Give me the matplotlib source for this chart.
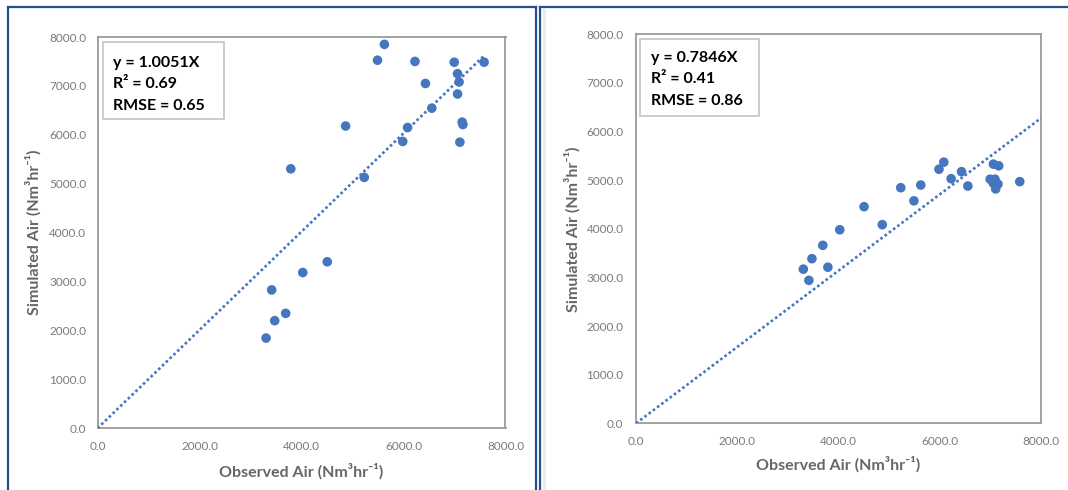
import matplotlib
matplotlib.use("Agg")
import matplotlib.pyplot as plt
from matplotlib.lines import Line2D
from matplotlib.patches import Rectangle
from matplotlib.ticker import FuncFormatter

# ---- data ----
observed = [3305, 3415, 3475, 3690, 3790, 4025, 4505, 4865, 5230, 5490, 5625, 5985,
            6080, 6225, 6430, 6555, 6995, 7060, 7060, 7090, 7105, 7150, 7165, 7580]
simulated_left = [1845, 2830, 2200, 2350, 5305, 3185, 3405, 6180, 5130, 7525, 7850, 5865,
                  6150, 7500, 7050, 6545, 7485, 7250, 6835, 7080, 5850, 6260, 6210, 7485]
simulated_right = [3170, 2940, 3385, 3660, 3210, 3980, 4455, 4085, 4845, 4575, 4900, 5225,
                   5370, 5030, 5175, 4880, 5020, 5330, 4935, 5020, 4820, 4920, 5295, 4970]
slopes = [1.0051, 0.7846]
r2_values = [0.69, 0.41]
rmse_values = [0.65, 0.86]
trend_x_end = [7580, 8000]
x_ticks = [0, 2000, 4000, 6000, 8000]
y_ticks = [0, 1000, 2000, 3000, 4000, 5000, 6000, 7000, 8000]
x_label = "Observed Air (Nm³hr⁻¹)"
y_label = "Simulated Air (Nm³hr⁻¹)"

plt.rcParams['font.family'] = ['Lato', 'DejaVu Sans']

W, H = 1068, 490
fig = plt.figure(figsize=(W / 100, H / 100), dpi=100)
fig.patch.set_facecolor('white')

BLUE = '#4677BE'
FRAME = '#24508F'


def px_rect(x0, y0, x1, y1):
    return [x0 / W, 1 - y1 / H, (x1 - x0) / W, (y1 - y0) / H]


panels = [
    dict(rect=px_rect(97.5, 37, 505.5, 428.3), sim=simulated_left,
         box=(0.0135, 0.790, 0.2965, 0.197), tx=0.039, ty=[0.924, 0.869, 0.814],
         ylab=(-0.158, 0.5), xlab=(0.5, -0.109), ypad=8.0),
    dict(rect=px_rect(636, 34.3, 1041, 423.3), sim=simulated_right,
         box=(0.011, 0.790, 0.293, 0.197), tx=0.0365, ty=[0.930, 0.876, 0.818],
         ylab=(-0.156, 0.5), xlab=(0.5, -0.105), ypad=9.0),
]

for i, p in enumerate(panels):
    ax = fig.add_axes(p['rect'])
    ax.scatter(observed, p['sim'], s=48, color=BLUE, edgecolors='none', zorder=2)
    xe = trend_x_end[i]
    ax.plot([0, xe], [0, slopes[i] * xe], linestyle=(0, (1, 1)), lw=1.9,
            color=BLUE, zorder=3, solid_capstyle='butt', dash_capstyle='butt')
    ax.set_xlim(0, 8000)
    ax.set_ylim(0, 8000)
    ax.set_xticks(x_ticks)
    ax.set_yticks(y_ticks)
    fmt = FuncFormatter(lambda v, pos: f"{v:.1f}")
    ax.xaxis.set_major_formatter(fmt)
    ax.yaxis.set_major_formatter(fmt)
    ax.tick_params(axis='both', length=0, labelsize=8.5, labelcolor='#7A7A7A')
    ax.tick_params(axis='x', pad=9)
    ax.tick_params(axis='y', pad=p['ypad'])
    for s in ax.spines.values():
        s.set_color('#9A9A9A')
        s.set_linewidth(1.3)
    ax.set_xlabel(x_label, fontsize=11.5, fontweight='bold', color='#666666',
                  va='center', ha='center')
    ax.set_ylabel(y_label, fontsize=11.5, fontweight='bold', color='#666666',
                  va='center', ha='center')
    ax.xaxis.set_label_coords(*p['xlab'])
    ax.yaxis.set_label_coords(*p['ylab'])

    bx, by, bw, bh = p['box']
    ax.add_patch(Rectangle((bx, by), bw, bh, transform=ax.transAxes,
                           facecolor='white', edgecolor='#C8C8C8', lw=1.3, zorder=4))
    lines = [f"y = {slopes[i]:.4f}X", f"R² = {r2_values[i]:.2f}",
             f"RMSE = {rmse_values[i]:.2f}"]
    for t, yy in zip(lines, p['ty']):
        ax.text(p['tx'], yy, t, transform=ax.transAxes, fontsize=11.5,
                fontweight='bold', color='black', va='baseline', ha='left', zorder=5)


def fline(x0, y0, x1, y1, color=FRAME, lw=1.6):
    fig.add_artist(Line2D([x0 / W, x1 / W], [1 - y0 / H, 1 - y1 / H],
                          transform=fig.transFigure, color=color, lw=lw))


# outer panel frames
fline(7.5, 7.5, 7.5, H + 5)
fline(7.5, 7.5, 536, 7.5)
fline(536, 7.5, 536, H + 5)
fline(540, 7.5, 540, H + 5)
fline(540, 7.5, W + 5, 7.5)
fline(543.5, 9, 543.5, H + 5, color='#EBEBEB', lw=2.0)

fig.savefig('out.png', dpi=100, facecolor='white')
